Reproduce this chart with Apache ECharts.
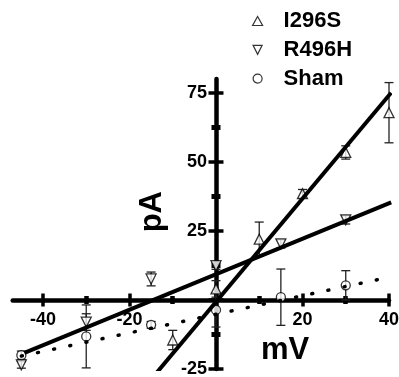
<!DOCTYPE html>
<html>
<head>
<meta charset="utf-8">
<script src="https://cdn.jsdelivr.net/npm/echarts@6/dist/echarts.min.js"></script>
<style>
html,body{margin:0;padding:0;background:#fff;}
#chart{width:399px;height:377px;}
</style>
</head>
<body>
<div id="chart"></div>
<script>
// ---- data ----
const seriesNames = ['I296S', 'R496H', 'Sham'];

const xI296S = [-10, 0, 10, 20, 30, 40];
const yI296S = [-14.5, 4, 22, 38.5, 53.4, 67.8];
const eI296S = [3.5, 3, 6.2, 1.5, 2.4, 10.9];

const xR496H = [-45, -30, -15, 0, 15, 30];
const yR496H = [-23.5, -8, 7.6, 12.4, 20.3, 29];
const eR496H = [1.2, 3, 2.5, 1.3, 1.5, 1.5];

const xSham = [-45, -30, -15, 0, 15, 30];
const ySham = [-20, -13.2, -9, -3.6, 1, 5.3];
const eSham = [1.5, 11.4, 1.2, 6.2, 10.2, 5.3];

// linear fits: slope, intercept, x range
const fitSlope = [1.87, 0.643, 0.336];
const fitIntercept = [-0.7, 9.3, -5.2];
const fitXFrom = [-47, -44.3, -45];
const fitXTo = [40.5, 40.5, 40.5];

// axes
const xMin = -47, xMax = 40;
const yMin = -25, yMax = 80;
const xMajorTicks = [-40, -20, 0, 20, 40];
const xMinorTicks = [-30, -10, 10, 30];
const xTickLabels = [-40, -20, 20, 40];
const yMajorTicks = [-25, 0, 25, 50, 75];
const yMinorTicks = [-12.5, 12.5, 37.5, 62.5];
const yTickLabels = [-25, 25, 50, 75];

// ---- layout ----
const W = 399, H = 377;
const G = { left: 12.7, right: 10, top: 79, bottom: 8 };
const gridW = W - G.left - G.right, gridH = H - G.top - G.bottom;
// axes cross at the origin: move them in from the grid edges
const xAxisOffset = -((0 - yMin) / (yMax - yMin)) * gridH;
const yAxisOffset = -((0 - xMin) / (xMax - xMin)) * gridW;

const FONT = '"Liberation Sans", Arial, sans-serif';
const pts = (xs, ys) => xs.map((x, i) => [x, ys[i]]);
const errs = (xs, ys, es) => xs.map((x, i) => [x, ys[i], es[i]]);
const fitLine = i => [
  [fitXFrom[i], fitSlope[i] * fitXFrom[i] + fitIntercept[i]],
  [fitXTo[i], fitSlope[i] * fitXTo[i] + fitIntercept[i]]
];

function makeXAxis(ticks, labels, inside, len, w, showLine) {
  return {
    type: 'value', min: xMin, max: xMax, position: 'bottom', offset: xAxisOffset,
    axisLine: { show: showLine, onZero: false, lineStyle: { color: '#000', width: 4.5 } },
    axisTick: { show: true, inside: inside, length: len, customValues: ticks, lineStyle: { color: '#000', width: w } },
    axisLabel: labels ? { show: true, customValues: labels, margin: 11, color: '#000', fontSize: 18, fontWeight: 'bold', fontFamily: FONT } : { show: false },
    splitLine: { show: false }
  };
}
function makeYAxis(ticks, labels, inside, len, w, showLine) {
  return {
    type: 'value', min: yMin, max: yMax, position: 'left', offset: yAxisOffset,
    axisLine: { show: showLine, onZero: false, lineStyle: { color: '#000', width: 4.5 } },
    axisTick: { show: true, inside: inside, length: len, customValues: ticks, lineStyle: { color: '#000', width: w } },
    axisLabel: labels ? { show: true, customValues: labels, margin: 9, color: '#000', fontSize: 18, fontWeight: 'bold', fontFamily: FONT } : { show: false },
    splitLine: { show: false }
  };
}

function errorBarSeries(data) {
  return {
    type: 'custom', z: 2, silent: true,
    xAxisIndex: 0, yAxisIndex: 0,
    data: data,
    renderItem: function (params, api) {
      const x = api.value(0), y = api.value(1), e = api.value(2);
      const top = api.coord([x, y + e]);
      const bot = api.coord([x, y - e]);
      const hw = 4.5;
      const st = { stroke: '#222', lineWidth: 1.3 };
      return {
        type: 'group',
        children: [
          { type: 'line', shape: { x1: top[0], y1: top[1], x2: bot[0], y2: bot[1] }, style: st },
          { type: 'line', shape: { x1: top[0] - hw, y1: top[1], x2: top[0] + hw, y2: top[1] }, style: st },
          { type: 'line', shape: { x1: bot[0] - hw, y1: bot[1], x2: bot[0] + hw, y2: bot[1] }, style: st }
        ]
      };
    }
  };
}

const symStyle = { color: '#fff', borderColor: '#000', borderWidth: 1.3 };
const downTri = 'path://M0,0 L10,0 L5,10 Z';

const option = {
  animation: false,
  backgroundColor: '#fff',
  grid: { left: G.left, right: G.right, top: G.top, bottom: G.bottom, containLabel: false, outerBoundsMode: 'none' },
  xAxis: [
    makeXAxis(xMajorTicks, xTickLabels, false, 6.5, 3.5, true),
    makeXAxis(xMajorTicks, null, true, 6.5, 3.5, false),
    makeXAxis(xMinorTicks, null, false, 4, 4.5, false),
    makeXAxis(xMinorTicks, null, true, 4, 4.5, false)
  ],
  yAxis: [
    makeYAxis(yMajorTicks, yTickLabels, false, 7.5, 3.5, true),
    makeYAxis(yMajorTicks, null, true, 7.5, 3.5, false),
    makeYAxis(yMinorTicks, null, false, 4.5, 5, false),
    makeYAxis(yMinorTicks, null, true, 4.5, 5, false)
  ],
  legend: {
    data: [
      { name: seriesNames[0], icon: 'triangle' },
      { name: seriesNames[1], icon: downTri },
      { name: seriesNames[2], icon: 'circle' }
    ],
    orient: 'vertical',
    left: 247, top: 4,
    itemWidth: 10, itemHeight: 9,
    itemGap: 4.8,
    itemStyle: { color: '#fff', borderColor: '#000', borderWidth: 1.2 },
    textStyle: { color: '#000', fontSize: 22, fontWeight: 'bold', fontFamily: FONT, lineHeight: 24, padding: [0, 0, 0, 16] }
  },
  graphic: [
    { type: 'text', left: 137, top: 191, rotation: Math.PI / 2,
      style: { text: 'pA', fill: '#000', font: 'bold 31px ' + FONT } },
    { type: 'text', left: 261, top: 335,
      style: { text: 'mV', fill: '#000', font: 'bold 31px ' + FONT } }
  ],
  series: [
    errorBarSeries(errs(xI296S, yI296S, eI296S)),
    errorBarSeries(errs(xR496H, yR496H, eR496H)),
    errorBarSeries(errs(xSham, ySham, eSham)),
    { name: 'I296S', type: 'scatter', z: 3, symbol: 'triangle', symbolSize: [10, 10], itemStyle: symStyle, data: pts(xI296S, yI296S) },
    { name: 'R496H', type: 'scatter', z: 3, symbol: 'triangle', symbolRotate: 180, symbolSize: [10, 10], itemStyle: symStyle, data: pts(xR496H, yR496H) },
    { name: 'Sham', type: 'scatter', z: 3, symbol: 'circle', symbolSize: 9, itemStyle: symStyle, data: pts(xSham, ySham) },
    { type: 'line', z: 4, silent: true, showSymbol: false, symbol: 'none', clip: true,
      lineStyle: { color: '#000', width: 4 }, data: fitLine(0) },
    { type: 'line', z: 4, silent: true, showSymbol: false, symbol: 'none', clip: true,
      lineStyle: { color: '#000', width: 4 }, data: fitLine(1) },
    { type: 'line', z: 4, silent: true, showSymbol: false, symbol: 'none', clip: true,
      lineStyle: { color: '#000', width: 3.5, type: [1, 15.5], cap: 'round' }, data: fitLine(2) }
  ]
};

const chart = echarts.init(document.getElementById('chart'), null, { renderer: 'canvas' });
chart.setOption(option);
</script>
</body>
</html>
